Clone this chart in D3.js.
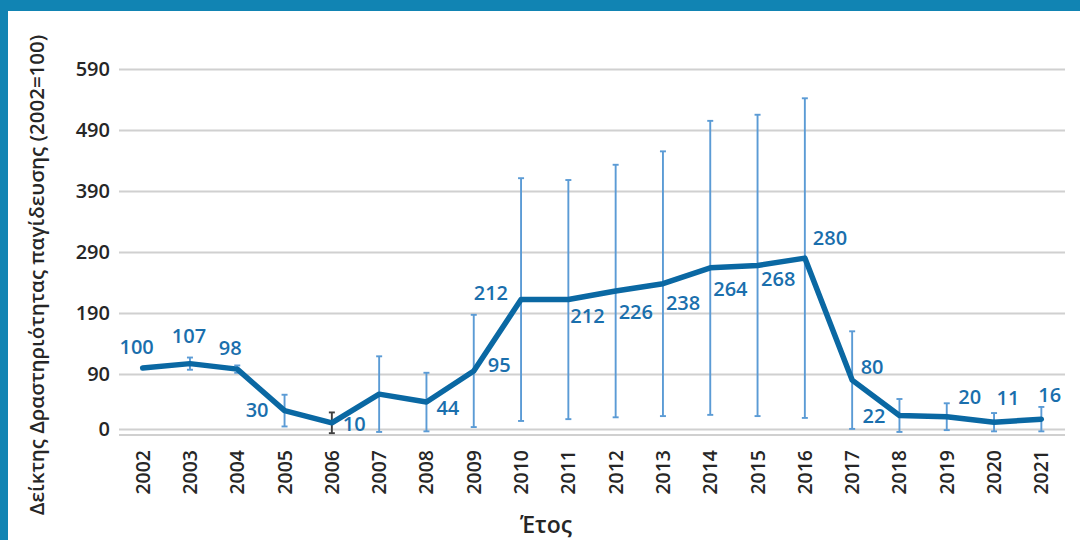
<!DOCTYPE html>
<html>
<head>
<meta charset="utf-8">
<script src="https://cdn.jsdelivr.net/npm/d3@7"></script>
<style>
  html, body { margin: 0; padding: 0; background: #fff; }
  svg { display: block; font-family: "Open Sans", "Noto Sans", sans-serif; }
</style>
</head>
<body>
<svg id="chart" width="1080" height="540"></svg>
<script>
// ---- data ----
const years = ["2002","2003","2004","2005","2006","2007","2008","2009","2010","2011",
               "2012","2013","2014","2015","2016","2017","2018","2019","2020","2021"];
const indexValues = [100,107,98,30,10,57,44,95,212,212,226,238,264,268,280,80,22,20,11,16];
const errorHalf   = [0,10,6,26,17,62,48,92,199,196,207,217,241,247,262,80,27,22,15,20];
const valueLabels = ["100","107","98","30","10",null,"44","95","212","212","226","238","264","268","280","80","22","20","11","16"];
const yTicks = [0,90,190,290,390,490,590];
const yTitle = "Δείκτης Δραστηριότητας παγίδευσης (2002=100)";
const xTitle = "Έτος";

// ---- layout (label placement relative to each point) ----
const labelPlace = [
  {a:"middle",dx:-6,dy:-14},{a:"middle",dx:-1,dy:-21},{a:"middle",dx:-7,dy:-14},
  {a:"end",dx:-16,dy:6},{a:"start",dx:11,dy:8},null,
  {a:"start",dx:10,dy:13},{a:"start",dx:14,dy:1},{a:"end",dx:-13,dy:0},
  {a:"start",dx:2,dy:23},{a:"start",dx:3,dy:28},{a:"start",dx:3,dy:26},
  {a:"start",dx:3,dy:28},{a:"start",dx:3.5,dy:21},{a:"start",dx:8,dy:-13},
  {a:"start",dx:8.5,dy:-6},{a:"end",dx:-14,dy:7.5},{a:"start",dx:11.5,dy:-12.5},
  {a:"start",dx:2.5,dy:-17},{a:"start",dx:-3,dy:-17.5}
];

const W = 1080, H = 540;
const plotL = 119, plotR = 1065, plotT = 69, plotB = 435;
const svg = d3.select("#chart");

// frame
svg.append("rect").attr("x",0).attr("y",0).attr("width",W).attr("height",11).attr("fill","#1184b3");
svg.append("rect").attr("x",0).attr("y",0).attr("width",8).attr("height",H).attr("fill","#1184b3");

const x = d3.scaleBand().domain(years).range([plotL, plotR]);
const y = d3.scaleLinear().domain([-10, 590]).range([plotB, plotT]);
const cx = d => x(d) + x.bandwidth()/2;

// y axis with gridlines
const yAxis = svg.append("g")
  .attr("transform", `translate(${plotL},0)`)
  .call(d3.axisLeft(y).tickValues(yTicks).tickSize(-(plotR-plotL)).tickPadding(9).tickFormat(d3.format("d")));
yAxis.select(".domain").remove();
yAxis.selectAll(".tick line").attr("stroke","#d0d0d0").attr("stroke-width",2);
yAxis.selectAll(".tick text").attr("fill","#262626").attr("font-size",20).attr("font-weight",600)
  .attr("font-family","'Open Sans', sans-serif");

// baseline (axis line at domain min)
svg.append("line").attr("x1",plotL).attr("x2",plotR).attr("y1",y(-10)).attr("y2",y(-10))
  .attr("stroke","#d0d0d0").attr("stroke-width",2);

// x axis
const xAxis = svg.append("g")
  .attr("transform", `translate(0,${plotB})`)
  .call(d3.axisBottom(x).tickSize(0));
xAxis.select(".domain").remove();
xAxis.selectAll(".tick text")
  .attr("transform","rotate(-90)")
  .attr("text-anchor","end")
  .attr("x",-15).attr("y",0).attr("dy","0.36em")
  .attr("fill","#262626").attr("font-size",19.5).attr("font-weight",600)
  .attr("font-family","'Open Sans', sans-serif");

// error bars
const eb = svg.append("g");
years.forEach((yr,i) => {
  const e = errorHalf[i];
  if (!e) return;
  const col = yr === "2006" ? "#404040" : "#5b9bd5";
  const xc = cx(yr), y1 = y(indexValues[i]+e), y2 = y(indexValues[i]-e);
  eb.append("line").attr("x1",xc).attr("x2",xc).attr("y1",y1).attr("y2",y2).attr("stroke",col).attr("stroke-width",1.9);
  [y1,y2].forEach(yy => eb.append("line").attr("x1",xc-3).attr("x2",xc+3).attr("y1",yy).attr("y2",yy).attr("stroke",col).attr("stroke-width",1.9));
});

// line
const line = d3.line().x((d,i)=>cx(years[i])).y(d=>y(d));
svg.append("path").datum(indexValues).attr("d",line)
  .attr("fill","none").attr("stroke","#0a68a3").attr("stroke-width",5.5)
  .attr("stroke-linejoin","round").attr("stroke-linecap","round");

// data labels
const lg = svg.append("g");
years.forEach((yr,i) => {
  const t = valueLabels[i], p = labelPlace[i];
  if (t == null || !p) return;
  lg.append("text").attr("x",cx(yr)+p.dx).attr("y",y(indexValues[i])+p.dy)
    .attr("text-anchor",p.a).attr("fill","#1a6fad").attr("font-size",20).attr("font-weight",600)
    .text(t);
});

// axis titles
svg.append("text").attr("transform","translate(44,275) rotate(-90)").attr("text-anchor","middle")
  .attr("fill","#262626").attr("font-size",20.5).attr("font-weight",600).text(yTitle);
svg.append("text").attr("x",546).attr("y",533).attr("text-anchor","middle")
  .attr("fill","#262626").attr("font-size",23).attr("font-weight",600).text(xTitle);
</script>
</body>
</html>
